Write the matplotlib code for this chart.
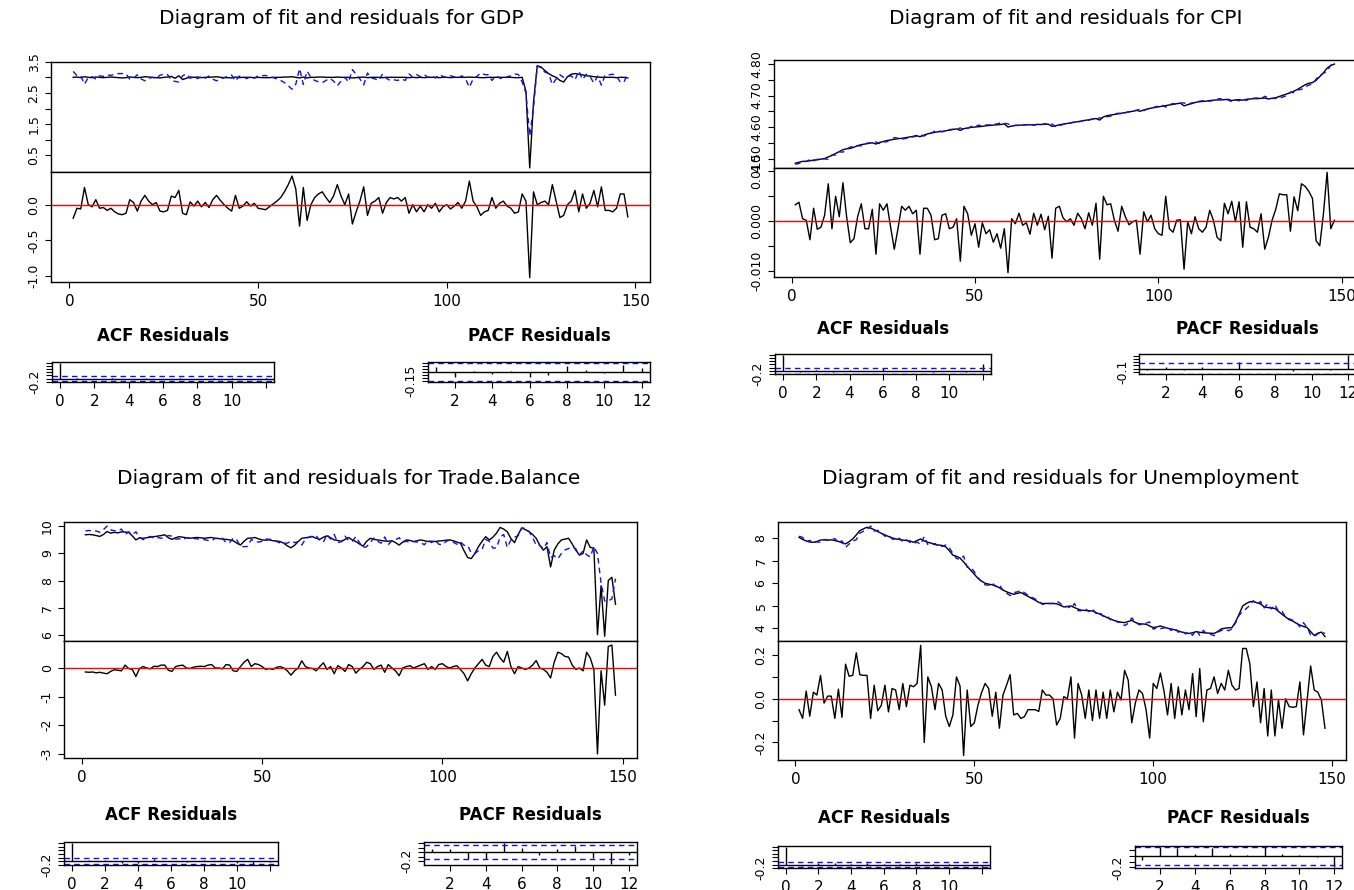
import numpy as np
import matplotlib
matplotlib.use("Agg")
import matplotlib.pyplot as plt

# ---------------- data ----------------
N_OBS = 148
t = np.arange(1, N_OBS + 1)

gdp_actual = [
    3.00, 3.01, 2.99, 3.02, 3.00, 2.99, 3.01, 3.00, 2.99, 3.00,
    3.01, 3.00, 2.99, 2.98, 2.99, 3.01, 3.00, 2.99, 3.00, 3.02,
    3.01, 3.00, 2.99, 2.98, 3.00, 3.01, 3.03, 2.97, 3.05, 2.93,
    2.97, 3.01, 3.00, 3.01, 2.99, 3.00, 3.00, 3.01, 3.02, 3.00,
    2.99, 2.99, 2.98, 3.01, 2.99, 3.00, 3.00, 3.00, 2.99, 3.00,
    2.99, 2.99, 2.99, 3.00, 3.00, 3.00, 3.01, 3.01, 3.02, 3.00,
    2.98, 3.01, 2.98, 3.00, 3.00, 3.01, 3.01, 3.00, 3.00, 3.00,
    3.01, 3.00, 3.00, 3.00, 2.98, 2.99, 3.00, 3.01, 2.99, 3.00,
    3.00, 3.00, 2.99, 3.00, 3.00, 3.00, 3.00, 3.00, 3.00, 2.99,
    3.00, 2.99, 3.00, 2.99, 3.00, 3.00, 3.00, 2.99, 3.00, 3.00,
    2.99, 3.00, 3.00, 3.00, 3.00, 3.01, 3.00, 3.00, 2.99, 2.99,
    3.00, 3.00, 3.00, 3.00, 3.00, 3.00, 3.00, 2.99, 2.99, 3.00,
    2.55, 0.10, 2.20, 3.37, 3.33, 3.22, 3.12, 3.05, 3.00, 2.90,
    2.85, 3.02, 3.10, 3.12, 3.10, 3.08, 3.05, 3.04, 3.02, 3.01,
    3.00, 3.00, 3.00, 3.00, 2.99, 3.00, 3.00, 2.98]
gdp_resid = [
    -0.19, -0.05, -0.06, 0.24, 0.00, -0.03, 0.07, -0.05, -0.04, -0.08,
    -0.05, -0.10, -0.13, -0.14, -0.12, 0.07, 0.03, -0.09, 0.05, 0.13,
    0.05, 0.00, 0.03, -0.09, -0.10, -0.08, 0.12, 0.10, 0.20, -0.12,
    -0.14, 0.04, -0.02, 0.05, -0.03, 0.03, -0.04, 0.07, 0.13, 0.06,
    0.00, -0.05, -0.09, 0.13, -0.05, -0.02, 0.04, -0.02, 0.02, -0.05,
    -0.06, -0.07, -0.03, 0.01, 0.05, 0.10, 0.18, 0.28, 0.40, 0.22,
    -0.30, 0.24, -0.22, 0.00, 0.10, 0.15, 0.18, 0.10, 0.03, 0.12,
    0.28, 0.12, 0.00, 0.15, -0.27, -0.10, 0.05, 0.25, -0.15, 0.02,
    0.05, 0.10, -0.12, 0.03, 0.10, 0.08, 0.10, 0.05, 0.10, -0.12,
    0.00, -0.10, -0.02, -0.10, 0.00, -0.05, 0.02, -0.10, -0.03, 0.00,
    -0.06, -0.02, 0.03, -0.05, 0.05, 0.33, 0.05, -0.03, -0.15, -0.10,
    -0.08, 0.10, -0.05, 0.02, 0.05, -0.02, -0.05, -0.12, -0.10, 0.15,
    0.05, -1.02, 0.18, 0.00, 0.03, 0.05, 0.00, 0.28, 0.05, -0.18,
    -0.15, 0.00, 0.05, 0.20, -0.10, 0.15, -0.05, 0.02, 0.20, -0.03,
    0.25, -0.08, -0.08, -0.10, -0.05, 0.15, 0.15, -0.17]
gdp_acf = [1.0, 0.03, -0.04, 0.02, -0.03, 0.03, -0.04, 0.02, -0.03, 0.04, 0.02, -0.02, 0.03]
gdp_pacf = [0.094, -0.083, 0.01, -0.033, 0.01, -0.083, -0.05, 0.11, 0.04, -0.02, 0.12, 0.065]

cpi_actual = [
    4.485, 4.488, 4.491, 4.491, 4.493, 4.495, 4.496, 4.498, 4.500, 4.505,
    4.510, 4.516, 4.522, 4.528, 4.531, 4.532, 4.536, 4.541, 4.544, 4.546,
    4.548, 4.550, 4.546, 4.551, 4.554, 4.557, 4.559, 4.561, 4.563, 4.564,
    4.566, 4.568, 4.570, 4.573, 4.569, 4.574, 4.578, 4.581, 4.583, 4.585,
    4.586, 4.588, 4.590, 4.592, 4.594, 4.589, 4.595, 4.597, 4.599, 4.600,
    4.601, 4.602, 4.604, 4.605, 4.606, 4.607, 4.608, 4.610, 4.600, 4.603,
    4.605, 4.606, 4.606, 4.607, 4.607, 4.607, 4.608, 4.608, 4.609, 4.609,
    4.602, 4.604, 4.607, 4.609, 4.611, 4.613, 4.615, 4.617, 4.619, 4.621,
    4.623, 4.625, 4.627, 4.622, 4.632, 4.636, 4.638, 4.640, 4.642, 4.644,
    4.646, 4.648, 4.650, 4.653, 4.650, 4.654, 4.657, 4.660, 4.662, 4.664,
    4.666, 4.668, 4.670, 4.672, 4.674, 4.676, 4.667, 4.671, 4.674, 4.678,
    4.680, 4.681, 4.682, 4.684, 4.685, 4.686, 4.686, 4.687, 4.688, 4.684,
    4.686, 4.687, 4.685, 4.688, 4.689, 4.690, 4.690, 4.691, 4.692, 4.689,
    4.691, 4.693, 4.697, 4.701, 4.705, 4.709, 4.714, 4.720, 4.727, 4.734,
    4.739, 4.741, 4.748, 4.760, 4.772, 4.787, 4.795, 4.800]
cpi_resid = [
    0.0033, 0.0038, 0.0005, 0.0002, -0.0037, 0.0026, -0.0016, -0.0012, 0.0012, 0.0075,
    -0.0015, 0.0050, 0.0009, 0.0077, 0.0009, -0.0043, -0.0035, 0.0009, 0.0035, -0.0015,
    -0.0015, 0.0024, -0.0066, 0.0035, 0.0022, 0.0035, -0.0012, -0.0056, -0.0015, 0.0030,
    0.0022, 0.0030, 0.0015, 0.0022, -0.0066, 0.0026, 0.0026, 0.0012, -0.0037, -0.0035,
    0.0012, 0.0015, -0.0015, -0.0012, 0.0005, -0.0080, 0.0030, 0.0015, -0.0028, -0.0005,
    -0.0052, -0.0003, -0.0025, -0.0017, -0.0042, -0.0025, -0.0054, -0.0015, -0.0103, 0.0005,
    -0.0005, 0.0016, -0.0008, -0.0003, -0.0026, 0.0016, -0.0008, 0.0014, -0.0017, 0.0010,
    -0.0074, 0.0026, 0.0030, 0.0007, -0.0001, 0.0005, -0.0008, 0.0016, 0.0005, -0.0015,
    0.0017, -0.0008, 0.0036, -0.0076, 0.0050, 0.0033, 0.0035, 0.0002, -0.0020, 0.0030,
    0.0009, -0.0007, -0.0001, 0.0002, -0.0066, 0.0019, -0.0001, 0.0012, -0.0015, -0.0025,
    -0.0028, 0.0050, -0.0015, -0.0022, 0.0002, 0.0003, -0.0096, -0.0001, -0.0025, 0.0009,
    -0.0015, -0.0022, -0.0012, 0.0022, 0.0002, -0.0032, -0.0039, 0.0036, 0.0015, 0.0040,
    -0.0001, 0.0039, -0.0052, 0.0039, -0.0012, -0.0015, -0.0022, 0.0015, -0.0056, -0.0032,
    0.0002, 0.0024, 0.0055, 0.0053, 0.0053, -0.0020, 0.0049, 0.0021, 0.0075, 0.0070,
    0.0060, 0.0046, -0.0039, -0.0049, 0.0015, 0.0098, -0.0015, 0.0002]
cpi_acf = [1.0, -0.05, 0.04, -0.04, 0.03, -0.03, 0.18, -0.03, -0.03, -0.05, -0.03, -0.04, 0.45]
cpi_pacf = [-0.05, 0.04, -0.06, 0.04, -0.03, 0.20, -0.02, -0.03, -0.07, -0.03, -0.06, 0.44]

tb_actual = [
    9.69, 9.70, 9.69, 9.66, 9.63, 9.70, 9.81, 9.75, 9.78, 9.76,
    9.80, 9.79, 9.78, 9.65, 9.50, 9.58, 9.56, 9.58, 9.60, 9.62,
    9.64, 9.66, 9.69, 9.58, 9.52, 9.58, 9.62, 9.60, 9.58, 9.56,
    9.58, 9.59, 9.58, 9.56, 9.58, 9.59, 9.56, 9.55, 9.53, 9.52,
    9.50, 9.47, 9.38, 9.31, 9.45, 9.56, 9.57, 9.59, 9.54, 9.50,
    9.49, 9.50, 9.47, 9.46, 9.44, 9.38, 9.28, 9.21, 9.30, 9.44,
    9.56, 9.58, 9.60, 9.62, 9.56, 9.52, 9.60, 9.65, 9.58, 9.50,
    9.48, 9.44, 9.52, 9.59, 9.50, 9.44, 9.35, 9.27, 9.45, 9.56,
    9.52, 9.50, 9.48, 9.46, 9.45, 9.47, 9.40, 9.31, 9.42, 9.50,
    9.48, 9.44, 9.47, 9.50, 9.47, 9.44, 9.45, 9.44, 9.46, 9.47,
    9.49, 9.50, 9.47, 9.42, 9.38, 9.10, 8.85, 8.81, 9.00, 9.25,
    9.45, 9.62, 9.50, 9.60, 9.75, 9.96, 9.90, 9.80, 9.55, 9.40,
    9.70, 9.94, 9.88, 9.81, 9.70, 9.56, 9.30, 9.12, 9.25, 8.50,
    9.12, 9.35, 9.50, 9.53, 9.56, 9.35, 9.12, 8.94, 9.00, 9.50,
    9.22, 9.20, 6.00, 7.81, 5.94, 8.00, 8.12, 7.12]
tb_resid = [
    -0.14, -0.15, -0.14, -0.17, -0.15, -0.18, -0.20, -0.12, -0.06, -0.08,
    -0.10, 0.10, -0.02, -0.05, -0.30, -0.02, 0.05, 0.00, -0.03, 0.06,
    0.05, 0.10, 0.10, -0.08, -0.12, 0.05, 0.08, 0.10, 0.00, -0.02,
    0.03, 0.05, 0.06, 0.05, 0.10, 0.12, 0.00, 0.00, -0.03, 0.12,
    0.10, -0.10, -0.12, 0.05, 0.20, 0.30, 0.05, 0.15, 0.12, 0.05,
    -0.05, -0.02, -0.05, 0.02, 0.05, 0.00, -0.10, -0.25, -0.10, 0.00,
    0.25, 0.05, 0.00, -0.02, -0.10, 0.05, 0.18, -0.05, 0.05, -0.20,
    0.08, 0.00, -0.12, 0.12, 0.05, -0.18, -0.05, 0.05, 0.20, 0.15,
    -0.05, 0.05, 0.10, -0.15, 0.12, 0.00, -0.10, -0.27, 0.00, 0.05,
    0.08, 0.00, 0.05, 0.10, 0.15, -0.05, 0.05, -0.05, 0.12, 0.15,
    0.05, 0.00, 0.05, 0.08, -0.05, -0.20, -0.45, -0.20, 0.00, 0.15,
    0.30, 0.10, 0.05, 0.40, 0.55, 0.35, 0.20, 0.58, 0.05, -0.20,
    0.05, 0.00, -0.05, 0.00, 0.10, 0.26, 0.00, -0.05, -0.15, -0.35,
    0.20, 0.55, 0.50, 0.40, 0.38, 0.10, -0.05, 0.00, -0.10, 0.55,
    0.35, -0.05, -3.00, -0.10, -1.30, 0.75, 0.80, -0.95]
tb_acf = [1.0, 0.05, 0.06, -0.10, -0.10, 0.15, 0.04, -0.03, 0.05, 0.08, -0.10, -0.15, -0.04]
tb_pacf = [0.08, 0.08, -0.15, -0.165, 0.20, 0.10, -0.07, 0.07, 0.135, -0.13, -0.27, -0.07]

un_actual = [
    8.04, 7.95, 7.88, 7.83, 7.82, 7.86, 7.92, 7.93, 7.92, 7.93,
    7.90, 7.86, 7.80, 7.75, 7.85, 7.97, 8.15, 8.34, 8.42, 8.49,
    8.45, 8.38, 8.30, 8.22, 8.15, 8.08, 8.02, 7.97, 7.95, 7.92,
    7.90, 7.88, 7.82, 7.90, 7.97, 7.88, 7.82, 7.78, 7.72, 7.70,
    7.68, 7.62, 7.45, 7.25, 7.20, 7.12, 6.95, 6.75, 6.58, 6.40,
    6.22, 6.10, 6.00, 5.96, 5.93, 5.88, 5.80, 5.70, 5.62, 5.56,
    5.51, 5.55, 5.59, 5.50, 5.42, 5.33, 5.25, 5.15, 5.10, 5.10,
    5.11, 5.10, 5.09, 5.02, 4.95, 4.97, 4.99, 4.92, 4.85, 4.80,
    4.79, 4.78, 4.77, 4.70, 4.63, 4.56, 4.48, 4.42, 4.35, 4.30,
    4.27, 4.25, 4.30, 4.35, 4.26, 4.20, 4.19, 4.18, 4.10, 4.03,
    4.06, 4.10, 4.05, 4.00, 3.97, 3.93, 3.88, 3.83, 3.79, 3.77,
    3.80, 3.85, 3.82, 3.80, 3.79, 3.78, 3.77, 3.85, 3.97, 4.00,
    4.02, 4.03, 4.28, 4.62, 4.99, 5.10, 5.18, 5.19, 5.13, 5.08,
    4.95, 4.92, 4.90, 4.88, 4.75, 4.62, 4.50, 4.38, 4.32, 4.22,
    4.14, 4.08, 4.03, 3.85, 3.68, 3.78, 3.83, 3.63]
un_resid = [
    -0.050, -0.090, 0.035, -0.080, 0.030, 0.017, 0.107, -0.020, 0.012, 0.012,
    -0.090, 0.044, -0.085, 0.158, 0.103, 0.107, 0.210, 0.110, 0.107, 0.107,
    -0.090, 0.062, -0.055, -0.030, 0.062, -0.060, 0.047, 0.040, -0.050, 0.070,
    -0.036, 0.062, 0.055, 0.070, 0.244, -0.200, 0.100, 0.055, -0.050, 0.070,
    0.040, -0.080, -0.127, -0.074, 0.100, 0.058, -0.260, 0.040, -0.127, -0.110,
    -0.030, 0.027, 0.070, 0.047, -0.080, 0.030, -0.135, 0.017, 0.062, 0.110,
    -0.074, -0.067, -0.090, -0.082, -0.050, -0.050, -0.050, -0.058, 0.040, 0.017,
    0.017, 0.000, -0.120, -0.090, 0.010, 0.000, 0.100, -0.180, 0.070, 0.017,
    -0.090, 0.040, -0.100, 0.040, -0.090, 0.030, -0.090, 0.040, -0.060, 0.030,
    -0.006, 0.130, 0.085, -0.110, -0.020, 0.040, 0.024, -0.050, -0.180, 0.070,
    0.047, 0.118, 0.036, -0.074, 0.070, -0.090, 0.055, -0.074, 0.040, -0.050,
    0.115, -0.082, 0.138, -0.105, 0.040, 0.047, 0.100, 0.024, 0.070, 0.040,
    0.130, 0.062, 0.040, 0.047, 0.230, 0.230, 0.160, -0.036, 0.077, -0.110,
    0.047, -0.170, 0.040, -0.170, -0.006, -0.135, 0.000, -0.036, -0.039, -0.036,
    0.077, -0.165, -0.006, 0.150, 0.040, 0.030, -0.006, -0.135]
un_acf = [1.0, -0.06, 0.10, 0.09, 0.03, 0.08, 0.02, 0.02, 0.09, 0.03, 0.02, -0.02, -0.14]
un_pacf = [-0.07, 0.15, 0.13, 0.03, 0.13, 0.03, 0.02, 0.15, 0.03, 0.02, -0.02, -0.20]

acf_lags = np.arange(0, 13)
pacf_lags = np.arange(1, 13)

series_names = ["GDP", "CPI", "Trade.Balance", "Unemployment"]

# tick positions / labels
main_xticks = [0, 50, 100, 150]
acf_xticks = [0, 2, 4, 6, 8, 10, 12]
acf_xlabels = ["0", "2", "4", "6", "8", "10", ""]
pacf_xticks = [2, 4, 6, 8, 10, 12]

fit_yticks = {
    "GDP": ([0.5, 1.0, 1.5, 2.0, 2.5, 3.0, 3.5], ["0.5", "", "1.5", "", "2.5", "", "3.5"]),
    "CPI": ([4.50, 4.55, 4.60, 4.65, 4.70, 4.75, 4.80], ["4.50", "", "4.60", "", "4.70", "", "4.80"]),
    "Trade.Balance": ([6, 7, 8, 9, 10], ["6", "7", "8", "9", "10"]),
    "Unemployment": ([4, 5, 6, 7, 8], ["4", "5", "6", "7", "8"]),
}
res_yticks = {
    "GDP": ([-1.0, -0.5, 0.0], ["-1.0", "-0.5", "0.0"]),
    "CPI": ([-0.010, -0.005, 0.0, 0.005, 0.010], ["-0.010", "", "0.000", "", "0.010"]),
    "Trade.Balance": ([-3, -2, -1, 0], ["-3", "-2", "-1", "0"]),
    "Unemployment": ([-0.2, -0.1, 0.0, 0.1, 0.2], ["-0.2", "", "0.0", "", "0.2"]),
}
acf_yticks = {
    "GDP": ([-0.2, 0.0, 0.2, 0.4, 0.6, 0.8, 1.0], "-0.2"),
    "CPI": ([-0.2, 0.0, 0.2, 0.4, 0.6, 0.8, 1.0], "-0.2"),
    "Trade.Balance": ([-0.2, 0.0, 0.2, 0.4, 0.6, 0.8, 1.0], "-0.2"),
    "Unemployment": ([-0.2, 0.0, 0.2, 0.4, 0.6, 0.8, 1.0], "-0.2"),
}
pacf_yticks = {
    "GDP": ([-0.15, -0.10, -0.05, 0.0, 0.05, 0.10, 0.15], "-0.15"),
    "CPI": ([-0.1, 0.0, 0.1, 0.2, 0.3, 0.4], "-0.1"),
    "Trade.Balance": ([-0.2, -0.1, 0.0, 0.1, 0.2], "-0.2"),
    "Unemployment": ([-0.2, -0.1, 0.0, 0.1], "-0.2"),
}

data = {
    "GDP": (gdp_actual, gdp_resid, gdp_acf, gdp_pacf),
    "CPI": (cpi_actual, cpi_resid, cpi_acf, cpi_pacf),
    "Trade.Balance": (tb_actual, tb_resid, tb_acf, tb_pacf),
    "Unemployment": (un_actual, un_resid, un_acf, un_pacf),
}

# ---------------- layout (pixels) ----------------
W, H = 1354, 890
layout = {
    "GDP": dict(fit=(51, 61.7, 650, 172), res_bot=281.7, acf=(52, 362, 274, 382),
                pacf=(428, 362, 650, 382), title=(341, 18), sub_y=336),
    "CPI": dict(fit=(773.7, 60, 1356, 168.3), res_bot=276.7, acf=(775, 354, 990.6, 374.3),
                pacf=(1139.4, 354, 1356, 374.3), title=(1066, 18), sub_y=329.3),
    "Trade.Balance": dict(fit=(64.2, 521.7, 636.7, 640.7), res_bot=758.3, acf=(64.2, 842.3, 277.6, 865),
                          pacf=(424.2, 842.3, 636.7, 865), title=(349, 478.3), sub_y=815),
    "Unemployment": dict(fit=(778, 521.7, 1346, 641), res_bot=760, acf=(778, 845.7, 989.5, 868.3),
                         pacf=(1134.7, 845.7, 1342, 868.3), title=(1060, 478.3), sub_y=818.3),
}

plt.rcParams["font.family"] = ["DejaVu Sans"]
fig = plt.figure(figsize=(W / 100, H / 100), dpi=100)
fig.patch.set_facecolor("white")

BLUE = "#1010ee"
LW = 1.0
TITLE_FS = 14.5
SUB_FS = 12
XT_FS = 11
YT_FS = 9


def add_px(x0, y0, x1, y1):
    return fig.add_axes([x0 / W, 1 - y1 / H, (x1 - x0) / W, (y1 - y0) / H])


def rlim(vals):
    lo, hi = float(np.min(vals)), float(np.max(vals))
    r = hi - lo
    return lo - 0.04 * r, hi + 0.04 * r


def style(ax):
    for s in ax.spines.values():
        s.set_linewidth(1.0)
        s.set_color("black")
    ax.tick_params(direction="out", length=4.5, width=0.8, colors="black", pad=3)
    ax.tick_params(axis="x", pad=4)
    ax.set_facecolor("white")


def yticks_rot(ax, ticks, labels, fs=YT_FS):
    ax.set_yticks(ticks)
    ax.set_yticklabels(labels, rotation=90, va="center", fontsize=fs)


clim = 1.96 / np.sqrt(N_OBS)
xl_main = (1 - 0.04 * (N_OBS - 1), N_OBS + 0.04 * (N_OBS - 1))

for name in series_names:
    actual, resid, acfv, pacfv = data[name]
    actual = np.array(actual)
    resid = np.array(resid)
    fitted = actual - resid
    L = layout[name]
    x0, y0, x1, ymid = L["fit"]

    fig.text(L["title"][0] / W, 1 - L["title"][1] / H,
             "Diagram of fit and residuals for " + name,
             ha="center", va="center", fontsize=TITLE_FS)

    # fit panel
    ax = add_px(x0, y0, x1, ymid)
    style(ax)
    ax.plot(t, actual, color="black", lw=LW)
    ax.plot(t, fitted, color=BLUE, lw=LW, ls=(0, (4, 3)))
    ax.set_xlim(*xl_main)
    ax.set_ylim(*rlim(np.concatenate([actual, fitted])))
    ax.set_xticks([])
    yticks_rot(ax, *fit_yticks[name])

    # residual panel
    ax2 = add_px(x0, ymid, x1, L["res_bot"])
    style(ax2)
    ax2.plot(t, resid, color="black", lw=LW)
    ax2.axhline(0, color="red", lw=LW)
    ax2.set_xlim(*xl_main)
    ax2.set_ylim(*rlim(resid))
    ax2.set_xticks(main_xticks)
    ax2.set_xticklabels([str(v) for v in main_xticks], fontsize=XT_FS)
    yticks_rot(ax2, *res_yticks[name])

    # ACF panel
    a0, b0, a1, b1 = L["acf"]
    ax3 = add_px(a0, b0, a1, b1)
    style(ax3)
    ax3.vlines(acf_lags, 0, acfv, color="black", lw=LW)
    ax3.axhline(0, color="black", lw=LW)
    ax3.axhline(clim, color=BLUE, lw=LW, ls=(0, (4, 3)))
    ax3.axhline(-clim, color=BLUE, lw=LW, ls=(0, (4, 3)))
    ax3.set_xlim(-0.04 * 12, 12 + 0.04 * 12)
    ax3.set_ylim(*rlim(np.concatenate([acfv, [clim, -clim]])))
    ax3.set_xticks(acf_xticks)
    ax3.set_xticklabels(acf_xlabels, fontsize=XT_FS)
    tk, lab = acf_yticks[name]
    yticks_rot(ax3, tk, [lab] + [""] * (len(tk) - 1))
    fig.text(((a0 + a1) / 2) / W, 1 - L["sub_y"] / H, "ACF Residuals",
             ha="center", va="center", fontsize=SUB_FS, fontweight="bold")

    # PACF panel
    p0, q0, p1, q1 = L["pacf"]
    ax4 = add_px(p0, q0, p1, q1)
    style(ax4)
    ax4.vlines(pacf_lags, 0, pacfv, color="black", lw=LW)
    ax4.axhline(0, color="black", lw=LW)
    ax4.axhline(clim, color=BLUE, lw=LW, ls=(0, (4, 3)))
    ax4.axhline(-clim, color=BLUE, lw=LW, ls=(0, (4, 3)))
    ax4.set_xlim(1 - 0.04 * 11, 12 + 0.04 * 11)
    ax4.set_ylim(*rlim(np.concatenate([pacfv, [clim, -clim]])))
    ax4.set_xticks(pacf_xticks)
    ax4.set_xticklabels([str(v) for v in pacf_xticks], fontsize=XT_FS)
    tk, lab = pacf_yticks[name]
    yticks_rot(ax4, tk, [lab] + [""] * (len(tk) - 1))
    fig.text(((p0 + p1) / 2) / W, 1 - L["sub_y"] / H, "PACF Residuals",
             ha="center", va="center", fontsize=SUB_FS, fontweight="bold")

fig.savefig("out.png", dpi=100, facecolor="white")
